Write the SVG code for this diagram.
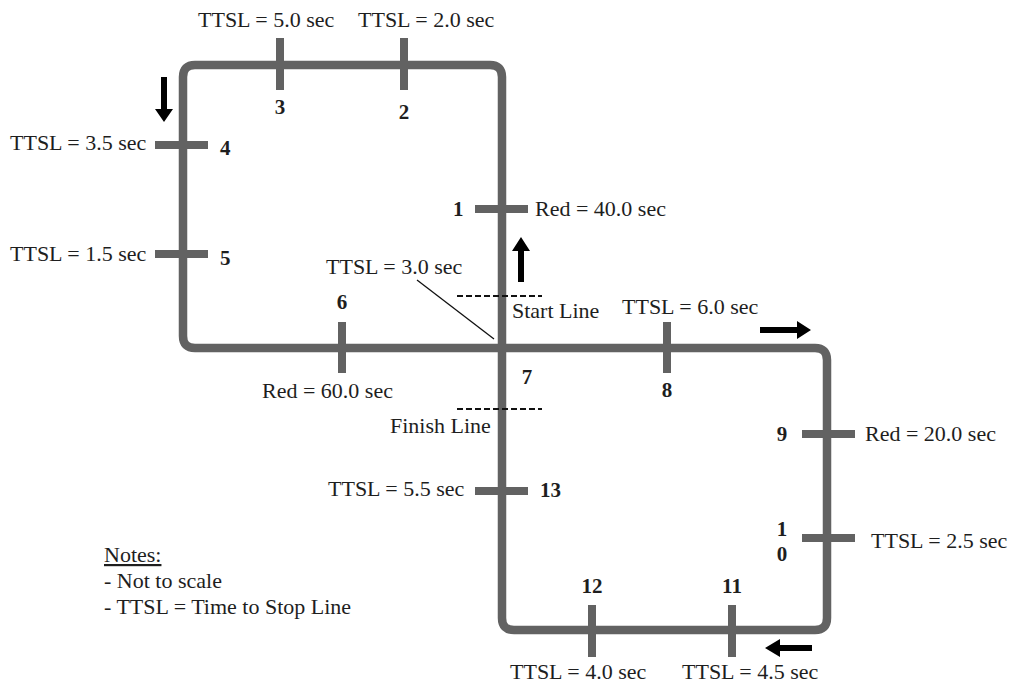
<svg xmlns="http://www.w3.org/2000/svg" width="1011" height="689" viewBox="0 0 1011 689">
<style>
.trk{fill:none;stroke:#626262;stroke-width:8.5;stroke-linejoin:round}
.bar{stroke:#626262;stroke-width:8;fill:none}
.t{font-family:"Liberation Serif","Times New Roman",serif;font-size:22px;fill:#1e1e1e}
.n{font-family:"Liberation Serif","Times New Roman",serif;font-size:21px;font-weight:bold;fill:#1e1e1e}
.m{text-anchor:middle}
.dash{stroke:#111;stroke-width:2;stroke-dasharray:6 3;fill:none}
.arr{fill:#000}
</style>
<rect width="1011" height="689" fill="#fff"/>
<g id="connectors">
<path id="track" class="trk" d="M183,336 V77 Q183,65 195,65 H490 Q502,65 502,77 V618 Q502,630 514,630 H815 Q827,630 827,618 V360 Q827,348 815,348 H195 Q183,348 183,336 Z"/>
<g id="flow-arrows" class="arr">
<path d="M161,77 H167 V109 H173 L164,122 L155,109 H161 Z"/>
<path d="M518,282 H524 V251 H530 L521,237 L512,251 H518 Z"/>
<path d="M760,327 V333 H797 V339 L811,330 L797,321 V327 Z"/>
<path d="M812,645 V651 H780 V657 L765,648 L780,639 V645 Z"/>
</g>
<line x1="417" y1="280" x2="494" y2="339" stroke="#111" stroke-width="1.3"/>
</g>
<g id="start-line"><line class="dash" x1="457" y1="296" x2="542" y2="296"/><text class="t" x="512" y="318">Start Line</text></g>
<g id="finish-line"><line class="dash" x1="457" y1="409" x2="542" y2="409"/><text class="t" x="390" y="433">Finish Line</text></g>
<g id="stop-1"><line class="bar" x1="475" y1="209" x2="528" y2="209"/><text class="n" x="453" y="216">1</text><text class="t" x="535" y="216">Red = 40.0 sec</text></g>
<g id="stop-2"><line class="bar" x1="404" y1="38" x2="404" y2="90"/><text class="n m" x="404" y="119">2</text><text class="t" x="358" y="27">TTSL = 2.0 sec</text></g>
<g id="stop-3"><line class="bar" x1="280" y1="38" x2="280" y2="90"/><text class="n m" x="280" y="114">3</text><text class="t" x="198" y="27">TTSL = 5.0 sec</text></g>
<g id="stop-4"><line class="bar" x1="155" y1="145" x2="208" y2="145"/><text class="n" x="220" y="155">4</text><text class="t" x="10" y="150">TTSL = 3.5 sec</text></g>
<g id="stop-5"><line class="bar" x1="155" y1="254" x2="208" y2="254"/><text class="n" x="220" y="265">5</text><text class="t" x="10" y="261">TTSL = 1.5 sec</text></g>
<g id="stop-6"><line class="bar" x1="342" y1="322" x2="342" y2="373"/><text class="n m" x="342" y="309">6</text><text class="t" x="262" y="398">Red = 60.0 sec</text></g>
<g id="stop-7"><text class="n m" x="527" y="384">7</text><text class="t" x="326" y="274">TTSL = 3.0 sec</text></g>
<g id="stop-8"><line class="bar" x1="667" y1="322" x2="667" y2="373"/><text class="n m" x="667" y="397">8</text><text class="t" x="622" y="314">TTSL = 6.0 sec</text></g>
<g id="stop-9"><line class="bar" x1="802" y1="434" x2="855" y2="434"/><text class="n m" x="782" y="441">9</text><text class="t" x="865" y="441">Red = 20.0 sec</text></g>
<g id="stop-10"><line class="bar" x1="802" y1="538" x2="855" y2="538"/><text class="n m" x="782" y="536">1</text><text class="n m" x="782" y="561">0</text><text class="t" x="871" y="548">TTSL = 2.5 sec</text></g>
<g id="stop-11"><line class="bar" x1="732" y1="605" x2="732" y2="657"/><text class="n m" x="732" y="593">11</text><text class="t" x="682" y="679">TTSL = 4.5 sec</text></g>
<g id="stop-12"><line class="bar" x1="592" y1="605" x2="592" y2="657"/><text class="n m" x="592" y="593">12</text><text class="t" x="510" y="679">TTSL = 4.0 sec</text></g>
<g id="stop-13"><line class="bar" x1="475" y1="491" x2="528" y2="491"/><text class="n" x="540" y="497">13</text><text class="t" x="328" y="496">TTSL = 5.5 sec</text></g>
<g id="notes">
<text class="t" x="104" y="562" text-decoration="underline">Notes:</text>
<text class="t" x="104" y="588">- Not to scale</text>
<text class="t" x="104" y="614">- TTSL = Time to Stop Line</text>
</g>
</svg>
